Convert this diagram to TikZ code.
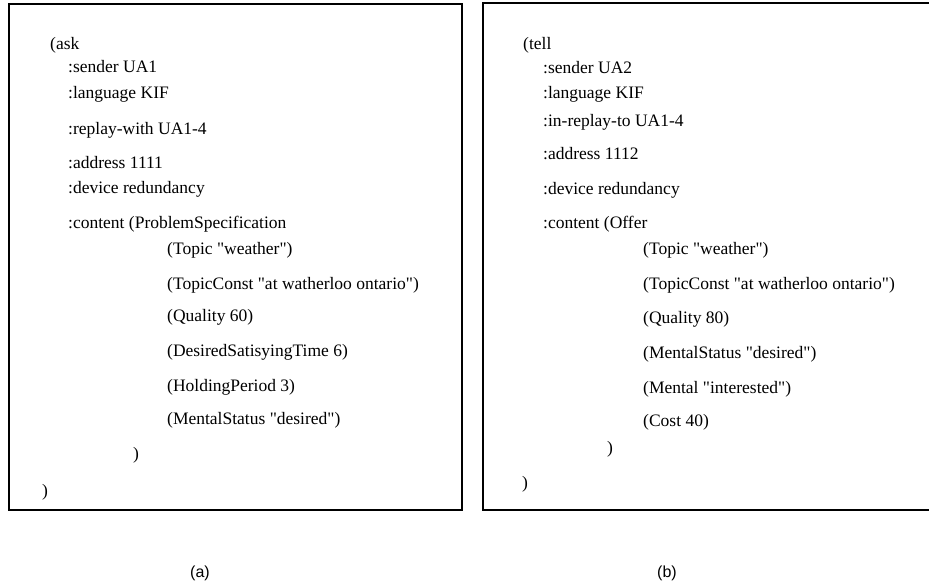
\documentclass[tikz,border=0pt]{standalone}
\usepackage{fontspec}
\setmainfont{Liberation Serif}
\newfontfamily\capfont{Liberation Sans}
\newcommand{\q}{\textquotedbl}
\begin{document}
\begin{tikzpicture}[x=1pt,y=-1pt,
  msg/.style={anchor=base west,inner sep=0pt,font=\fontsize{17.5}{20}\selectfont},
  caption/.style={anchor=center,inner sep=0pt,font=\capfont\fontsize{16}{18}\selectfont},
  frame/.style={line width=1.3pt}]
\useasboundingbox (0,0) rectangle (929,586);

% message (a): ask
\draw[frame] (9,4) rectangle (462,510);
\node[msg] (a0) at (50,49) {(ask};
\node[msg] (a1) at (68,73) {:sender UA1};
\node[msg] (a2) at (68,99) {:language KIF};
\node[msg] (a3) at (68,134) {:replay-with UA1-4};
\node[msg] (a4) at (68,168) {:address 1111};
\node[msg] (a5) at (68,193) {:device redundancy};
\node[msg] (a6) at (68,228) {:content (ProblemSpecification};
\node[msg] (a7) at (167,254) {(Topic \q weather\q)};
\node[msg] (a8) at (167,289) {(TopicConst \q at watherloo ontario\q)};
\node[msg] (a9) at (167,321) {(Quality 60)};
\node[msg] (a10) at (167,356) {(DesiredSatisyingTime 6)};
\node[msg] (a11) at (167,391) {(HoldingPeriod 3)};
\node[msg] (a12) at (167,424) {(MentalStatus \q desired\q)};
\node[msg] (a13) at (133,459) {)};
\node[msg] (a14) at (42,496) {)};
\node[caption] (capa) at (200,573) {(a)};

% message (b): tell
\draw[frame] (929,3) -- (483,3) -- (483,510) -- (929,510);
\node[msg] (b0) at (523,49) {(tell};
\node[msg] (b1) at (543,74) {:sender UA2};
\node[msg] (b2) at (543,99) {:language KIF};
\node[msg] (b3) at (543,126) {:in-replay-to UA1-4};
\node[msg] (b4) at (543,159) {:address 1112};
\node[msg] (b5) at (543,194) {:device redundancy};
\node[msg] (b6) at (543,228) {:content (Offer};
\node[msg] (b7) at (643,254) {(Topic \q weather\q)};
\node[msg] (b8) at (643,289) {(TopicConst \q at watherloo ontario\q)};
\node[msg] (b9) at (643,323) {(Quality 80)};
\node[msg] (b10) at (643,358) {(MentalStatus \q desired\q)};
\node[msg] (b11) at (643,393) {(Mental \q interested\q)};
\node[msg] (b12) at (643,426) {(Cost 40)};
\node[msg] (b13) at (607,453) {)};
\node[msg] (b14) at (522,488) {)};
\node[caption] (capb) at (667,573) {(b)};
\end{tikzpicture}
\end{document}
